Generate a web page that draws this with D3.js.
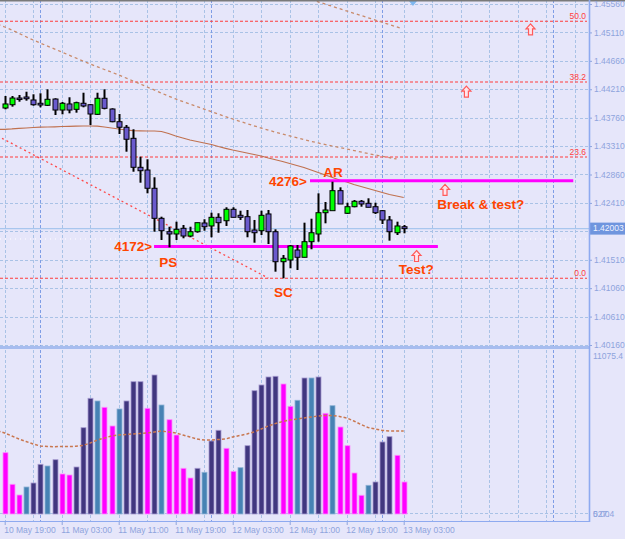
<!DOCTYPE html>
<html>
<head>
<meta charset="utf-8">
<script src="https://cdn.jsdelivr.net/npm/d3@7"></script>
<style>
  body { margin: 0; background: #e6e6fa; }
  svg { display: block; font-family: "Liberation Sans", Arial, sans-serif; }
  .axis text { fill: #8ea4dd; font-size: 8.5px; }
  .note { fill: #ff4500; font-size: 13.5px; font-weight: bold; }
  .fibLabel { fill: #ff4040; font-size: 8.5px; }
</style>
</head>
<body>
<div id="chart"></div>
<script>
var W = 625, H = 539;
var plotRight = 589, mainBottom = 346, volTop = 349, axisY = 521;

// hourly candles, 10 May 19:00 -> 13 May 03:00
var opens = [1.43913,1.43965,1.44071,1.44087,1.44040,1.43988,1.43956,1.44055,1.43881,1.43977,
  1.43892,1.43988,1.43965,1.43813,1.44067,1.43897,1.43696,1.43608,1.43433,1.42974,
  1.42931,1.42642,1.42166,1.41954,1.41918,1.42008,1.41886,1.41954,1.42092,1.42045,
  1.42182,1.42128,1.42309,1.42214,1.42192,1.41981,1.41970,1.42235,1.41954,1.41479,
  1.41506,1.41664,1.41549,1.41796,1.41918,1.42255,1.42287,1.42604,1.42246,1.42350,
  1.42436,1.42404,1.42350,1.42287,1.42140,1.41938,1.42033];
var highs = [1.44103,1.44103,1.44119,1.44171,1.44130,1.44146,1.44209,1.44067,1.44008,1.44083,
  1.44013,1.44155,1.43977,1.44155,1.44209,1.43908,1.43818,1.43644,1.43576,1.43142,
  1.43101,1.42816,1.42192,1.42033,1.42113,1.42060,1.42033,1.42097,1.42151,1.42255,
  1.42246,1.42341,1.42341,1.42287,1.42298,1.42140,1.42287,1.42298,1.41992,1.41585,
  1.41744,1.41744,1.42097,1.42160,1.42562,1.42425,1.42746,1.42657,1.42413,1.42456,
  1.42456,1.42483,1.42413,1.42298,1.42203,1.42113,1.42060];
var lows = [1.43892,1.43934,1.44013,1.44029,1.43950,1.43924,1.43945,1.43802,1.43813,1.43829,
  1.43839,1.43924,1.43644,1.43802,1.43892,1.43687,1.43501,1.43221,1.42904,1.42730,
  1.42562,1.41954,1.41823,1.41707,1.41823,1.41850,1.41866,1.41938,1.41970,1.41866,
  1.41938,1.42045,1.42182,1.42140,1.41866,1.41780,1.41902,1.41759,1.41321,1.41216,
  1.41375,1.41348,1.41549,1.41676,1.41796,1.42087,1.42309,1.42393,1.42235,1.42341,
  1.42350,1.42341,1.42235,1.42076,1.41812,1.41902,1.41929];
var closes = [1.43977,1.44071,1.44055,1.44060,1.43965,1.43961,1.44051,1.43881,1.43988,1.43881,
  1.43997,1.43945,1.43818,1.44067,1.43908,1.43696,1.43608,1.43418,1.42974,1.42920,
  1.42642,1.42166,1.41970,1.41918,1.41992,1.41886,1.41954,1.42097,1.42033,1.42182,
  1.42097,1.42309,1.42182,1.42182,1.41954,1.41938,1.42214,1.41954,1.41479,1.41533,
  1.41728,1.41549,1.41796,1.41938,1.42255,1.42298,1.42604,1.42393,1.42350,1.42436,
  1.42393,1.42341,1.42255,1.42140,1.41954,1.42045,1.42003];

// moving average on price (solid brown), first value is the bar before the window
var priceMA = [1.43573,1.43576,1.43581,1.43589,1.43596,1.43604,1.43609,1.43612,1.43615,1.43620,1.43623,
  1.43625,1.43628,1.43628,1.43625,1.43612,1.43596,1.43581,1.43565,1.43554,1.43552,
  1.43549,1.43549,1.43541,1.43509,1.43470,1.43438,1.43406,1.43383,1.43359,1.43335,
  1.43303,1.43275,1.43248,1.43224,1.43201,1.43177,1.43153,1.43121,1.43094,1.43066,
  1.43034,1.43003,1.42971,1.42931,1.42892,1.42852,1.42813,1.42773,1.42741,1.42702,
  1.42670,1.42638,1.42607,1.42575,1.42543,1.42520,1.42496];

// upper dashed band, [bar, price]
var bandPts = [[-1,1.45240],[0,1.45196],[4,1.44990],[8,1.44800],[12,1.44610],[16,1.44436],[20,1.44246],
  [24,1.44056],[28,1.43897],[32,1.43739],[36,1.43596],[40,1.43470],[44,1.43359],
  [48,1.43264],[52,1.43169],[55,1.43106]];

var volumes = [4191,2031,1299,1846,2119,3398,3282,3712,2735,2666,
  3213,5900,7910,7726,7295,6017,7179,7726,9045,9045,
  7227,9503,7452,6447,5401,3124,2461,3124,2851,4991,
  5723,4492,2919,3166,4670,8430,8820,9367,9415,8888,
  7363,7774,9298,9298,9367,6885,7404,5948,4670,2803,
  1279,1962,2188,4923,5285,4013,2188];
var volKinds = "MMMSNNSNMMNNNSMMSNNNMNSMMMMNSNNMMSNNNNNMMSNSNMSMMMMSNNNMM";
// volume average, first value is the bar before the window
var volMA = [5680,5538,5333,5128,4957,4786,4649,4615,4601,4615,4615,
  4629,4683,4854,5059,5196,5333,5401,5435,5470,5504,
  5538,5606,5675,5606,5538,5401,5264,5128,5059,5059,
  5094,5128,5264,5367,5470,5606,5811,6017,6187,6324,
  6427,6495,6564,6632,6700,6734,6734,6666,6564,6358,
  6119,5914,5811,5709,5675,5675,5675];

var priceTicks = [1.40160,1.40610,1.41060,1.41510,1.41960,1.42410,1.42860,1.43310,1.43760,1.44210,1.44660,1.45110,1.45560];
var timeTicks = [0, 8, 16, 24, 32, 40, 48, 56];
var timeLabels = ["10 May 19:00","11 May 03:00","11 May 11:00","11 May 19:00","12 May 03:00","12 May 11:00","12 May 19:00","13 May 03:00"];
var daySeps = [5, 29, 53, 77];
var bid = 1.42003, whiteLine = 1.41839;
var volTicks = [11075.4];
var volBottomLabels = ["0.00", "527.4"];

var fibLow = 1.41216, fibHigh = 1.49356;
var fibLevels = [0.0, 23.6, 38.2, 50.0];

var levels = [
  {price: 1.4172, from: 20.96, to: 60.8},
  {price: 1.4276, from: 42.85, to: 79.8}
];
var trendLines = [
  {a: [-1, 1.4347], b: [37, 1.4122], color: "#ff4a4a", dash: "2,3"},
  {a: [43, 1.4563], b: [55.5, 1.4518], color: "#c98a6a", dash: "3,3"}
];
var notes = [
  {i: 20.7, p: 1.4172, t: "4172>", anchor: "end"},
  {i: 21.7, p: 1.41474, t: "PS", anchor: "start"},
  {i: 37.8, p: 1.40999, t: "SC", anchor: "start"},
  {i: 44.7, p: 1.42900, t: "AR", anchor: "start"},
  {i: 42.4, p: 1.4276, t: "4276>", anchor: "end"},
  {i: 60.7, p: 1.42388, t: "Break & test?", anchor: "start"},
  {i: 55.3, p: 1.41359, t: "Test?", anchor: "start"}
];
var arrows = [[73.8, 1.45159], [64.8, 1.44171], [61.8, 1.42615], [57.8, 1.41569]];

var svg = d3.select("#chart").append("svg")
    .attr("width", W)
    .attr("height", H);

svg.append("rect").attr("width", W).attr("height", H).attr("fill", "#e6e6fa");

var x = d3.scaleLinear().domain([0, 80]).range([4.7, 574.7]);
var y = d3.scaleLinear().domain([1.40160, 1.45560]).range([345, 4]);
var yVol = d3.scaleLinear().domain([0, 11075.4]).range([514, 352]);

var defs = svg.append("defs");
defs.append("clipPath").attr("id", "clipMain")
  .append("rect").attr("x", 0).attr("y", 0).attr("width", plotRight).attr("height", mainBottom);
defs.append("clipPath").attr("id", "clipVol")
  .append("rect").attr("x", 0).attr("y", volTop).attr("width", plotRight).attr("height", axisY - volTop);

// grid
var grid = svg.append("g").attr("class", "grid");
grid.selectAll("line.hgrid")
    .data(priceTicks)
    .enter()
    .append("line")
    .attr("class", "hgrid")
    .attr("x1", 0).attr("x2", plotRight)
    .attr("y1", d => Math.round(y(d)) + 0.5).attr("y2", d => Math.round(y(d)) + 0.5)
    .attr("stroke", "#a9c2e6").attr("stroke-dasharray", "3,2");

grid.selectAll("line.vgrid")
    .data(d3.range(0, 81, 4))
    .enter()
    .append("line")
    .attr("class", "vgrid")
    .attr("x1", d => Math.round(x(d)) + 0.5).attr("x2", d => Math.round(x(d)) + 0.5)
    .attr("y1", 0).attr("y2", axisY)
    .attr("stroke", "#a9c2e6").attr("stroke-dasharray", "3,2");

grid.selectAll("line.daysep")
    .data(daySeps)
    .enter()
    .append("line")
    .attr("class", "daysep")
    .attr("x1", d => Math.round(x(d)) + 0.5).attr("x2", d => Math.round(x(d)) + 0.5)
    .attr("y1", 0).attr("y2", axisY)
    .attr("stroke", "#7f9de6").attr("stroke-dasharray", "3,2");

grid.append("line")
    .attr("x1", 0).attr("x2", plotRight)
    .attr("y1", Math.round(yVol(0)) - 0.5).attr("y2", Math.round(yVol(0)) - 0.5)
    .attr("stroke", "#a9c2e6").attr("stroke-dasharray", "3,2");

var main = svg.append("g").attr("clip-path", "url(#clipMain)");

// bid + white dotted
main.append("line")
    .attr("x1", 0).attr("x2", plotRight)
    .attr("y1", y(bid)).attr("y2", y(bid))
    .attr("stroke", "#a8c6ee").attr("stroke-width", 1.2);
main.append("line")
    .attr("x1", 0).attr("x2", plotRight)
    .attr("y1", y(whiteLine)).attr("y2", y(whiteLine))
    .attr("stroke", "#ffffff").attr("stroke-dasharray", "1,4");

// fibo levels
main.selectAll("line.fib")
    .data(fibLevels)
    .enter()
    .append("line")
    .attr("class", "fib")
    .attr("x1", 0).attr("x2", plotRight - 2)
    .attr("y1", d => y(fibLow + (fibHigh - fibLow) * d / 100))
    .attr("y2", d => y(fibLow + (fibHigh - fibLow) * d / 100))
    .attr("stroke", "#ff3c3c").attr("stroke-width", 1.1).attr("stroke-dasharray", "3,2");

main.selectAll("text.fibLabel")
    .data(fibLevels)
    .enter()
    .append("text")
    .attr("class", "fibLabel")
    .attr("x", plotRight - 3)
    .attr("y", d => y(fibLow + (fibHigh - fibLow) * d / 100) - 2)
    .style("text-anchor", "end")
    .text(d => d3.format(".1f")(d));

// MA + band + trendlines (MA arrays start one bar left of the window)
var lineP = d3.line().x((d, i) => x(i - 1)).y(d => y(d));
main.append("path")
    .attr("d", lineP(priceMA))
    .attr("fill", "none").attr("stroke", "#c0714f").attr("stroke-width", 1.2);

main.append("path")
    .attr("d", d3.line().curve(d3.curveMonotoneX).x(d => x(d[0])).y(d => y(d[1]))(bandPts))
    .attr("fill", "none").attr("stroke", "#c98a6a").attr("stroke-width", 1.3).attr("stroke-dasharray", "3,3");

main.selectAll("line.trend")
    .data(trendLines)
    .enter()
    .append("line")
    .attr("class", "trend")
    .attr("x1", d => x(d.a[0])).attr("y1", d => y(d.a[1]))
    .attr("x2", d => x(d.b[0])).attr("y2", d => y(d.b[1]))
    .attr("stroke", d => d.color).attr("stroke-width", 1.3).attr("stroke-dasharray", d => d.dash);

// magenta levels
main.selectAll("line.level")
    .data(levels)
    .enter()
    .append("line")
    .attr("class", "level")
    .attr("x1", d => x(d.from)).attr("x2", d => x(d.to))
    .attr("y1", d => y(d.price)).attr("y2", d => y(d.price))
    .attr("stroke", "#ff00ff").attr("stroke-width", 3);

// candles
var candles = main.selectAll("g.candle")
    .data(opens.map((o, i) => ({i: i, o: o, h: highs[i], l: lows[i], c: closes[i]})))
    .enter()
    .append("g")
    .attr("class", "candle");

candles.append("line")
    .attr("x1", d => Math.round(x(d.i)) + 0.5).attr("x2", d => Math.round(x(d.i)) + 0.5)
    .attr("y1", d => y(d.h)).attr("y2", d => y(d.l))
    .attr("stroke", "#000").attr("stroke-width", 2);

candles.append("rect")
    .attr("x", d => Math.round(x(d.i)) - 2)
    .attr("width", 5)
    .attr("y", d => y(Math.max(d.o, d.c)))
    .attr("height", d => Math.max(1.5, Math.abs(y(d.o) - y(d.c))))
    .attr("fill", d => d.c >= d.o ? "#00ff00" : "#6a5acd")
    .attr("stroke", "#000").attr("stroke-width", 1);

// annotations
main.selectAll("text.note")
    .data(notes)
    .enter()
    .append("text")
    .attr("class", "note")
    .attr("x", d => x(d.i))
    .attr("y", d => y(d.p))
    .attr("dy", "0.36em")
    .style("text-anchor", d => d.anchor)
    .text(d => d.t);

main.selectAll("path.arrow")
    .data(arrows)
    .enter()
    .append("path")
    .attr("class", "arrow")
    .attr("transform", d => `translate(${x(d[0])},${y(d[1])})`)
    .attr("d", "M0,-5.5L4.5,-0.5L2,-0.5L2,5.5L-2,5.5L-2,-0.5L-4.5,-0.5Z")
    .attr("fill", "#ffe4ec").attr("stroke", "#ff5a5a").attr("stroke-width", 1.2);

// chart shift marker
svg.append("path")
    .attr("transform", `translate(${x(57.3)},1)`)
    .attr("d", "M-4,0L4,0L0,5Z")
    .attr("fill", "#7fb8f0");

// volumes
var vol = svg.append("g").attr("clip-path", "url(#clipVol)");
var volFill = {M: "#ff00ff", S: "#4682b4", N: "#41377f"};
var volEdge = {M: "#ff8cff", S: "#8fb3d6", N: "#a59ad0"};

vol.selectAll("rect.vbar")
    .data(volumes)
    .enter()
    .append("rect")
    .attr("class", "vbar")
    .attr("x", (d, i) => Math.round(x(i)) - 2)
    .attr("width", 5)
    .attr("y", d => yVol(d))
    .attr("height", d => yVol(0) - yVol(d))
    .attr("fill", (d, i) => volFill[volKinds[i]])
    .attr("stroke", (d, i) => volEdge[volKinds[i]])
    .attr("stroke-width", 0.8);

vol.append("path")
    .attr("d", d3.line().x((d, i) => x(i - 1)).y(d => yVol(d))(volMA))
    .attr("fill", "none").attr("stroke", "#c9774f").attr("stroke-width", 1.5).attr("stroke-dasharray", "3,2");

// frame
svg.append("line").attr("x1", 0).attr("x2", W).attr("y1", 0.75).attr("y2", 0.75)
    .attr("stroke", "#7a7a7a").attr("stroke-width", 1.5);
svg.append("rect")
    .attr("x", 0).attr("y", mainBottom).attr("width", plotRight).attr("height", volTop - mainBottom)
    .attr("fill", "#a6bcef");

// axes; the tick label that sits under the bid box is hidden
var yAxis = d3.axisRight(y)
    .tickValues(priceTicks)
    .tickFormat(d => Math.abs(y(d) - y(bid)) < 9 ? "" : d3.format(".5f")(d))
    .tickSize(3)
    .tickPadding(2);
svg.append("g")
    .attr("class", "axis")
    .attr("transform", `translate(${plotRight},0)`)
    .call(yAxis)
    .call(g => g.select(".domain").remove())
    .call(g => g.selectAll(".tick line").attr("stroke", "#8ea4dd"));

svg.append("g")
    .attr("class", "axis")
    .selectAll("text")
    .data(volTicks)
    .enter()
    .append("text")
    .attr("x", plotRight + 4)
    .attr("y", d => yVol(d) + 4)
    .attr("dy", "0.32em")
    .text(d => d3.format(".1f")(d));
svg.append("g")
    .attr("class", "axis")
    .selectAll("text")
    .data(volBottomLabels)
    .enter()
    .append("text")
    .attr("x", plotRight + 4)
    .attr("y", yVol(0))
    .attr("dy", "0.32em")
    .text(d => d);

// bid box
svg.append("rect")
    .attr("x", plotRight).attr("y", y(bid) - 6).attr("width", W - plotRight).attr("height", 12)
    .attr("fill", "#6f95de");
svg.append("text")
    .attr("x", plotRight + 4).attr("y", y(bid))
    .attr("dy", "0.32em")
    .style("font-size", "8.5px").style("fill", "#eef2ff")
    .text(d3.format(".5f")(bid));

var xAxis = d3.axisBottom(x).tickValues(timeTicks).tickFormat((d, i) => timeLabels[i]).tickSize(4).tickPadding(2);
svg.append("g")
    .attr("class", "axis")
    .attr("transform", `translate(0,${axisY})`)
    .call(xAxis)
    .call(g => g.select(".domain").remove())
    .call(g => g.selectAll(".tick line").attr("stroke", "#8ea4dd"))
    .call(g => g.selectAll(".tick text").style("text-anchor", "start").attr("dx", -1));

svg.append("line")
    .attr("x1", 0).attr("x2", plotRight + 1)
    .attr("y1", axisY + 0.5).attr("y2", axisY + 0.5)
    .attr("stroke", "#8eaaf0").attr("stroke-width", 1.2);
svg.append("line")
    .attr("x1", plotRight + 0.5).attr("x2", plotRight + 0.5)
    .attr("y1", 0).attr("y2", axisY + 1)
    .attr("stroke", "#8eaaf0").attr("stroke-width", 1.6);
</script>
</body>
</html>
